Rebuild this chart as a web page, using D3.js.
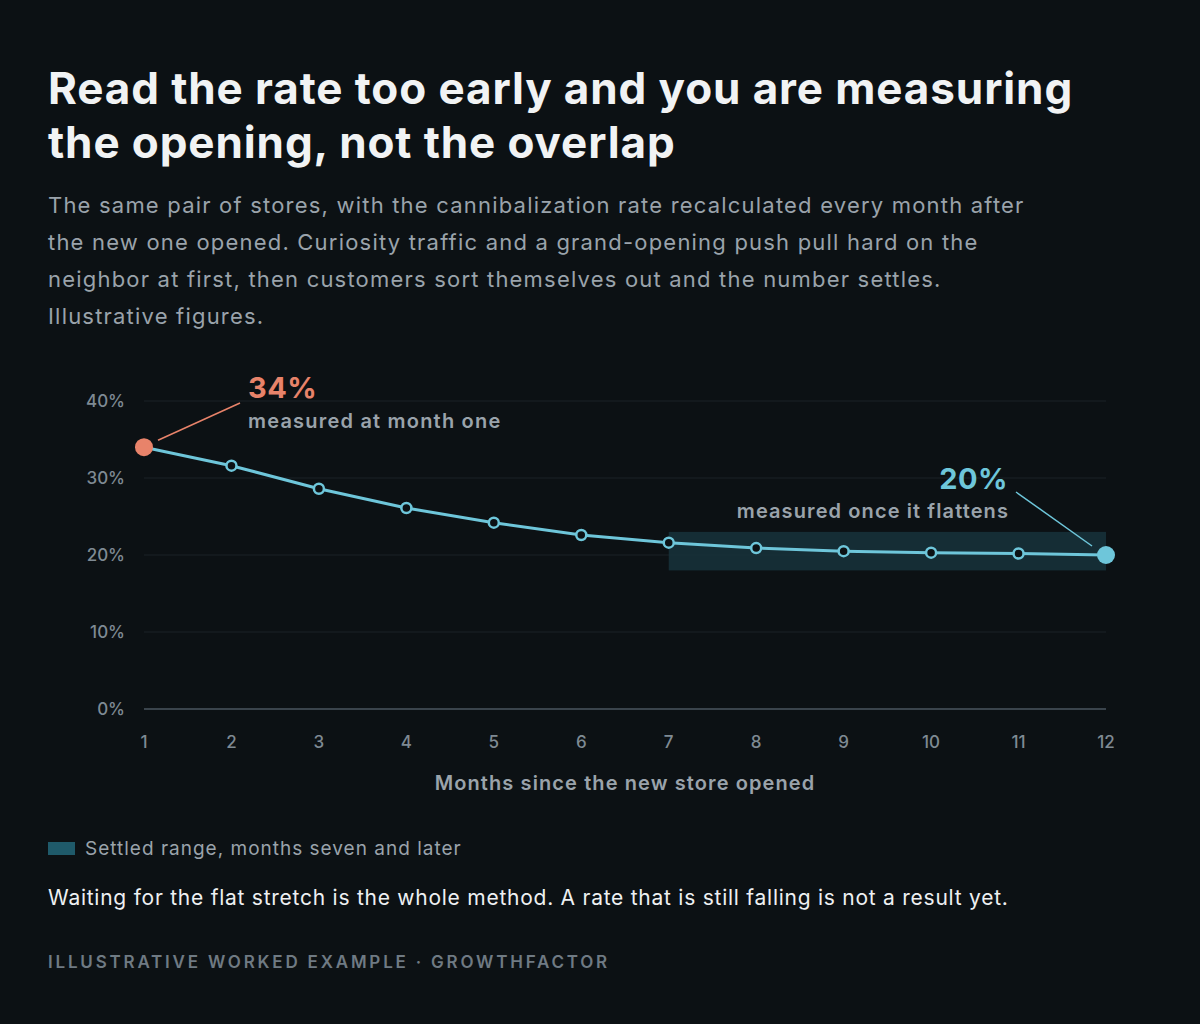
<!DOCTYPE html>
<html lang="en">
<head>
<meta charset="UTF-8">
<script src="https://d3js.org/d3.v7.min.js"></script>
<style>
  body { margin: 0; background: #0c1114; font-family: Inter, "Noto Sans", sans-serif; }
  svg text { font-family: Inter, "Noto Sans", sans-serif; }
</style>
</head>
<body>
<div id="chart"></div>
<script>
// data
const months = [1, 2, 3, 4, 5, 6, 7, 8, 9, 10, 11, 12];
const rates = [34.0, 31.6, 28.6, 26.1, 24.2, 22.6, 21.6, 20.9, 20.5, 20.3, 20.2, 20.0];
const yTicks = [0, 10, 20, 30, 40];
const settledBand = { fromMonth: 7, toMonth: 12, low: 18, high: 23 };

const W = 1200, H = 1024;
const svg = d3.select("#chart").append("svg").attr("width", W).attr("height", H);
svg.append("rect").attr("width", W).attr("height", H).attr("fill", "#0c1114");

// title + subtitle
const title = svg.append("text").attr("x", 48).attr("fill", "#f1f3f4")
  .attr("font-size", 44).attr("font-weight", 700).attr("letter-spacing", "0.9");
title.append("tspan").attr("x", 48).attr("y", 104).text("Read the rate too early and you are measuring");
title.append("tspan").attr("x", 48).attr("y", 158).text("the opening, not the overlap");

const sub = ["The same pair of stores, with the cannibalization rate recalculated every month after",
  "the new one opened. Curiosity traffic and a grand-opening push pull hard on the",
  "neighbor at first, then customers sort themselves out and the number settles.",
  "Illustrative figures."];
svg.append("g").selectAll("text").data(sub).join("text")
  .attr("x", 48).attr("y", (d, i) => 213 + i * 37)
  .attr("fill", "#9aa3ab").attr("font-size", 22).attr("letter-spacing", "1.2").text(d => d);

// scales
const x = d3.scaleLinear().domain([1, 12]).range([144, 1106]);
const y = d3.scaleLinear().domain([0, 40]).range([709, 401]);

// gridlines + y labels
svg.append("g").selectAll("line").data(yTicks).join("line")
  .attr("x1", 144).attr("x2", 1106).attr("y1", d => y(d)).attr("y2", d => y(d))
  .attr("stroke", d => d === 0 ? "#3a444c" : "#1a2226").attr("stroke-width", d => d === 0 ? 2 : 1);
svg.append("g").selectAll("text").data(yTicks).join("text")
  .attr("x", 125).attr("y", d => y(d) + 6).attr("text-anchor", "end")
  .attr("fill", "#7f8a93").attr("font-size", 17).attr("font-weight", 500).text(d => d + "%");

// x labels
svg.append("g").selectAll("text").data(months).join("text")
  .attr("x", d => x(d)).attr("y", 748).attr("text-anchor", "middle")
  .attr("fill", "#7f8a93").attr("font-size", 17).attr("font-weight", 500).text(d => d);
svg.append("text").attr("x", 625).attr("y", 790).attr("text-anchor", "middle")
  .attr("fill", "#9aa3ab").attr("font-size", 20).attr("font-weight", 600).attr("letter-spacing", "1.1")
  .text("Months since the new store opened");

// settled band
svg.append("rect")
  .attr("x", x(settledBand.fromMonth)).attr("y", y(settledBand.high))
  .attr("width", x(settledBand.toMonth) - x(settledBand.fromMonth))
  .attr("height", y(settledBand.low) - y(settledBand.high))
  .attr("fill", "#17323b").attr("opacity", 0.85);

// line
const data = months.map((m, i) => ({ m, v: rates[i] }));
svg.append("path").datum(data)
  .attr("fill", "none").attr("stroke", "#6ec6da").attr("stroke-width", 3)
  .attr("d", d3.line().x(d => x(d.m)).y(d => y(d.v)));
svg.append("g").selectAll("circle").data(data.slice(1, -1)).join("circle")
  .attr("cx", d => x(d.m)).attr("cy", d => y(d.v)).attr("r", 5)
  .attr("fill", "#0c1114").attr("stroke", "#6ec6da").attr("stroke-width", 2.5);

// endpoints
const first = data[0], last = data[data.length - 1];
svg.append("circle").attr("cx", x(first.m)).attr("cy", y(first.v)).attr("r", 9).attr("fill", "#e8836a");
svg.append("circle").attr("cx", x(last.m)).attr("cy", y(last.v)).attr("r", 9).attr("fill", "#6ec6da");

// annotations
svg.append("line").attr("x1", x(first.m) + 14).attr("y1", y(first.v) - 7)
  .attr("x2", 240).attr("y2", 403).attr("stroke", "#e8836a").attr("stroke-width", 1.5);
svg.append("text").attr("x", 248).attr("y", 398).attr("fill", "#e8836a")
  .attr("font-size", 29).attr("font-weight", 700).attr("letter-spacing", "0.5").text(first.v.toFixed(0) + "%");
svg.append("text").attr("x", 248).attr("y", 428).attr("fill", "#9aa3ab")
  .attr("font-size", 20).attr("font-weight", 600).attr("letter-spacing", "1.2").text("measured at month one");

svg.append("line").attr("x1", 1016).attr("y1", 492)
  .attr("x2", x(last.m) - 14).attr("y2", y(last.v) - 9).attr("stroke", "#6ec6da").attr("stroke-width", 1.5);
svg.append("text").attr("x", 1008).attr("y", 489).attr("text-anchor", "end").attr("fill", "#6ec6da")
  .attr("font-size", 29).attr("font-weight", 700).attr("letter-spacing", "0.5").text(last.v.toFixed(0) + "%");
svg.append("text").attr("x", 1009).attr("y", 518).attr("text-anchor", "end").attr("fill", "#9aa3ab")
  .attr("font-size", 20).attr("font-weight", 600).attr("letter-spacing", "1.1").text("measured once it flattens");

// legend
svg.append("rect").attr("x", 48).attr("y", 842).attr("width", 27).attr("height", 13).attr("fill", "#1f5a6a");
svg.append("text").attr("x", 85).attr("y", 855).attr("fill", "#9aa3ab").attr("font-size", 19)
  .attr("letter-spacing", "1").text("Settled range, months seven and later");

svg.append("text").attr("x", 48).attr("y", 905).attr("fill", "#eef0f2").attr("font-size", 21)
  .attr("letter-spacing", "0.75")
  .text("Waiting for the flat stretch is the whole method. A rate that is still falling is not a result yet.");

svg.append("text").attr("x", 48).attr("y", 968).attr("fill", "#6f7a83").attr("font-size", 17)
  .attr("font-weight", 600).attr("letter-spacing", "2.8").text("ILLUSTRATIVE WORKED EXAMPLE · GROWTHFACTOR");
</script>
</body>
</html>
